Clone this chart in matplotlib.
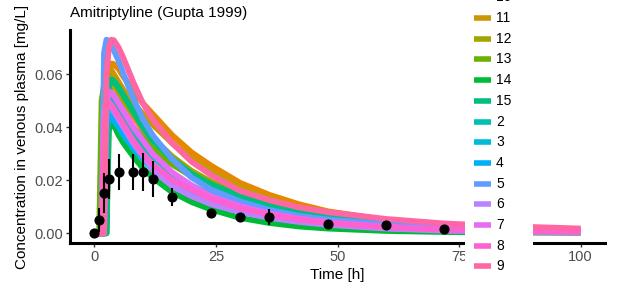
import numpy as np
import matplotlib
matplotlib.use("Agg")
import matplotlib.pyplot as plt

plt.rcParams['font.family'] = ['Liberation Sans', 'DejaVu Sans']

# simulated individuals (time grid shared by all curves)
sim_time = [0, 0.5, 1, 1.5, 2, 2.5, 3, 3.5, 4, 5, 6, 8, 10, 12, 16, 20, 24, 30, 36, 42, 48, 60, 72, 86, 100]

sim_1  = [0, 0, 0, 0, .055, .060, .0595, .058, .0565, .053, .050, .044, .039, .035, .028, .0215, .0170, .0125, .0093, .0070, .0054, .0033, .0021, .0014, .0009]
sim_10 = [0, 0, 0, 0, 0, 0, .060, .064, .0638, .062, .059, .054, .049, .045, .037, .0305, .0255, .019, .0145, .011, .0083, .0050, .0031, .0019, .0012]
sim_11 = [0, 0, 0, 0, 0, .057, .062, .0615, .060, .057, .054, .049, .045, .041, .034, .028, .0235, .0175, .013, .0098, .0074, .0044, .0027, .0017, .0011]
sim_12 = [0, 0, 0, 0, .055, .060, .0595, .058, .0565, .053, .050, .045, .040, .036, .029, .0235, .0195, .0145, .011, .0083, .0064, .0039, .0025, .0016, .0010]
sim_13 = [0, 0, 0, .050, .056, .057, .0555, .053, .051, .048, .045, .040, .036, .032, .026, .0215, .018, .0135, .0103, .0078, .006, .0037, .0024, .0015, .0010]
sim_14 = [0, 0, 0, 0, 0, 0, .039, .0413, .041, .037, .034, .029, .0245, .021, .0155, .0118, .009, .0058, .0039, .0026, .0018, .0009, .0005, .0003, .0002]
sim_15 = [0, 0, 0, 0, 0, 0, .055, .058, .0575, .055, .052, .046, .040, .035, .028, .0225, .0185, .014, .0108, .0083, .0065, .0041, .0027, .0017, .0011]
sim_2  = [0, 0, 0, 0, 0, .047, .052, .0515, .050, .047, .044, .038, .033, .029, .0225, .018, .0145, .0105, .0078, .0058, .0044, .0026, .0016, .0010, .0006]
sim_3  = [0, 0, 0, 0, 0, .043, .047, .0465, .045, .042, .039, .034, .029, .025, .019, .015, .012, .0085, .0062, .0046, .0034, .0019, .0011, .0007, .0004]
sim_4  = [0, 0, 0, 0, 0, .040, .044, .0438, .0425, .040, .037, .032, .028, .024, .0185, .0145, .0115, .0085, .0063, .0047, .0035, .0021, .0013, .0008, .0005]
sim_5  = [0, 0, 0, 0, .068, .073, .0725, .071, .069, .065, .060, .051, .043, .037, .028, .021, .0165, .012, .0088, .0066, .0052, .0034, .0023, .0015, .0010]
sim_6  = [0, 0, 0, 0, .046, .050, .0495, .048, .046, .043, .040, .034, .029, .024, .0178, .0140, .0110, .0080, .0058, .0043, .0032, .0018, .0010, .0006, .0003]
sim_7  = [0, 0, 0, 0, 0, .048, .0535, .053, .052, .049, .046, .040, .035, .030, .023, .018, .014, .0102, .0075, .0056, .0042, .0025, .0015, .0009, .0005]
sim_8  = [0, 0, 0, 0, .042, .047, .049, .0485, .047, .044, .041, .035, .030, .026, .020, .0165, .013, .0095, .007, .0052, .0039, .0023, .0014, .0008, .0005]
sim_9  = [0, 0, 0, 0, 0, .060, .070, .073, .0728, .070, .066, .057, .049, .043, .034, .027, .022, .016, .0125, .0098, .008, .0054, .0037, .0026, .0018]

ids = ['1', '10', '11', '12', '13', '14', '15', '2', '3', '4', '5', '6', '7', '8', '9']
id_colors = ['#F8766D', '#E58700', '#C99800', '#A3A500', '#6BB100', '#00BA38', '#00BF7D',
             '#00C0AF', '#00BCD8', '#00B0F6', '#619CFF', '#B983FF', '#E76BF3', '#FD61D1', '#FF67A4']

# observed data (mean +- sd)
obs_time = [0, 1, 2, 3, 5, 8, 10, 12, 16, 24, 30, 36, 48, 60, 72]
obs_conc = [0, 0.005, 0.0153, 0.0204, 0.0232, 0.0232, 0.0232, 0.0204, 0.0136, 0.0075, 0.006, 0.0063, 0.0034, 0.003, 0.0015]
obs_sd   = [0, 0.0045, 0.0075, 0.0075, 0.0067, 0.0067, 0.0072, 0.0067, 0.0033, 0.0017, 0.0015, 0.003, 0.0008, 0.0008, 0.0008]

sim_curves = [sim_1, sim_10, sim_11, sim_12, sim_13, sim_14, sim_15,
              sim_2, sim_3, sim_4, sim_5, sim_6, sim_7, sim_8, sim_9]

W, H = 618, 289
fig = plt.figure(figsize=(W / 100, H / 100), dpi=100)
ax = fig.add_axes([70 / W, 1 - 243 / H, (605 - 70) / W, (243 - 30) / H])

for vals, col in zip(sim_curves, id_colors):
    ax.plot(sim_time, vals, color=col, lw=4.2, solid_capstyle='butt', solid_joinstyle='round', zorder=2)

ax.errorbar(obs_time, obs_conc, yerr=obs_sd, fmt='o', color='black', ms=6.3,
            elinewidth=1.5, capsize=0, zorder=3)

# ggplot-like expansion
ymax = max(max(c) for c in sim_curves)
rng = ymax
ax.set_ylim(-0.05 * rng, ymax + 0.05 * rng)
ax.set_xlim(-5, 105)

ax.set_xticks([0, 25, 50, 75, 100])
ax.set_yticks([0.0, 0.02, 0.04, 0.06])
ax.set_yticklabels(['0.00', '0.02', '0.04', '0.06'])
ax.tick_params(colors='#333333', labelcolor='#4D4D4D', labelsize=10.5, length=3, width=1, pad=2)
for s in ['top', 'right']:
    ax.spines[s].set_visible(False)
for s in ['left', 'bottom']:
    ax.spines[s].set_linewidth(2.2)
ax.set_xlabel('Time [h]', fontsize=11, labelpad=3)
ax.set_ylabel('Concentration in venous plasma [mg/L]', fontsize=11, labelpad=4)

fig.text(70 / W, 1 - 17 / H, 'Amitriptyline (Gupta 1999)', fontsize=11, va='baseline', ha='left')

# legend panel drawn over the plot
lax = fig.add_axes([465 / W, 0, (533 - 465) / W, 1], zorder=5)
lax.set_facecolor('white')
lax.set_xlim(465, 533)
lax.set_ylim(H, 0)
lax.set_xticks([])
lax.set_yticks([])
for s in lax.spines.values():
    s.set_visible(False)
for i, (lab, col) in enumerate(zip(ids, id_colors)):
    yy = 18 + 20.7 * (i - 2)
    lax.plot([474, 491], [yy, yy], color=col, lw=4, solid_capstyle='butt')
    lax.text(496, yy, lab, fontsize=10, va='center', ha='left')

fig.savefig('out.png', dpi=100)
